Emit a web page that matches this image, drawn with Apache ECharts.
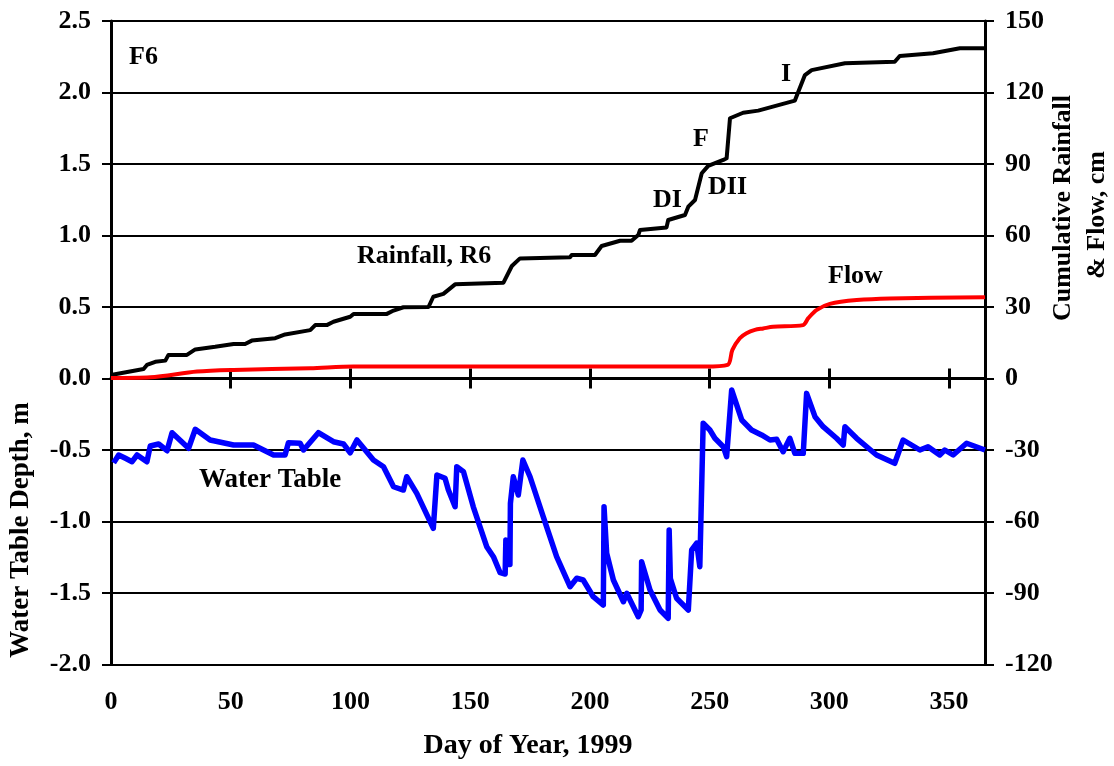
<!DOCTYPE html>
<html><head><meta charset="utf-8">
<script src="https://cdn.jsdelivr.net/npm/echarts@6/dist/echarts.min.js"></script>
<style>html,body{margin:0;padding:0;background:#fff}#c{width:1114px;height:766px}</style>
</head><body><div id="c"></div>
<script>
// Cumulative rainfall (cm, right axis)
const rainDay = [0, 13.6, 15, 18.5, 22.7, 24, 31.7, 35.2, 43.5, 51.2, 56, 58.8, 68.6, 72.7, 83.2, 85.3, 90.1, 92.9, 99.9, 101.3, 115.2, 118, 122.1, 132.6, 134.6, 138.8, 143.7, 163.9, 167.4, 170.8, 191.7, 192.4, 202.1, 204.9, 212.6, 217.4, 220.2, 220.9, 232, 232.7, 239.7, 241.1, 243.9, 246.7, 249.4, 255.7, 257.1, 258.5, 264, 270.3, 285.6, 289.8, 292.6, 306.5, 327.3, 329.4, 343.3, 354.5, 365];
const rainCm = [1.5, 4.0, 5.7, 7.0, 7.5, 9.9, 9.9, 12.2, 13.3, 14.5, 14.5, 15.9, 16.9, 18.5, 20.3, 22.4, 22.4, 23.8, 25.9, 27.1, 27.1, 28.5, 29.9, 30.0, 34.3, 35.5, 39.5, 40.2, 47.2, 50.4, 50.9, 51.8, 51.8, 55.6, 57.8, 57.8, 60.2, 62.3, 63.4, 66.5, 68.6, 72.1, 74.9, 86.1, 89.2, 91.7, 92.4, 109.2, 111.5, 112.4, 116.6, 127.3, 129.4, 132.3, 132.9, 135.3, 136.5, 138.6, 138.6];
// Cumulative flow (cm, right axis)
const flowDay = [0, 16.4, 35.9, 51.2, 83.2, 101.3, 129, 248, 257.5, 259.5, 262.6, 265.4, 268.9, 272.4, 276.5, 289, 291.2, 294.6, 300.2, 311.4, 325.3, 365];
const flowCm = [0.2, 0.5, 2.9, 3.6, 4.3, 5.0, 5.0, 5.0, 5.7, 12.0, 16.9, 19.0, 20.4, 21.0, 21.7, 22.4, 25.3, 28.7, 31.3, 32.9, 33.6, 34.1];
// Water table depth (m, left axis)
const wtDay = [1.1, 3.2, 6, 8.8, 10.9, 15, 16.4, 19.9, 23.4, 25.5, 32.4, 35.2, 41.4, 51.2, 59.5, 67.9, 72.7, 74.1, 79, 80.4, 86.6, 92.9, 97.1, 99.9, 102.7, 109.6, 113.8, 118, 122.1, 123.5, 127.7, 134.6, 136.1, 139.5, 140.9, 143.7, 144.4, 147.2, 151.3, 156.9, 159.7, 162.5, 164.6, 164.9, 165.6, 166.6, 166.8, 168, 170.1, 172, 175, 180.5, 186.1, 191.7, 194.5, 197.2, 201.4, 205.6, 205.9, 207, 209.8, 214, 215.4, 220.2, 221.4, 221.6, 225.1, 229.3, 232.7, 233.1, 233.6, 236.2, 241.1, 242.5, 244.6, 245.9, 247.3, 250.1, 252.2, 255.7, 257.1, 259.2, 263.4, 267.5, 271.7, 275.2, 278, 280.7, 283.5, 285.6, 289.1, 290.5, 294, 297.4, 303, 305.8, 306.5, 311.4, 319.7, 327.3, 330.8, 337.8, 341.2, 346.1, 348.2, 351.7, 357.3, 365];
const wtM = [-0.59, -0.535, -0.558, -0.582, -0.535, -0.582, -0.472, -0.458, -0.505, -0.379, -0.488, -0.355, -0.43, -0.465, -0.465, -0.535, -0.535, -0.449, -0.453, -0.5, -0.379, -0.442, -0.458, -0.519, -0.43, -0.57, -0.617, -0.757, -0.78, -0.687, -0.803, -1.048, -0.675, -0.698, -0.78, -0.897, -0.617, -0.652, -0.897, -1.176, -1.246, -1.358, -1.367, -1.13, -1.30, -1.30, -0.873, -0.687, -0.815, -0.57, -0.687, -0.966, -1.246, -1.456, -1.397, -1.409, -1.526, -1.584, -0.897, -1.222, -1.409, -1.561, -1.502, -1.666, -1.619, -1.281, -1.479, -1.619, -1.677, -1.06, -1.40, -1.537, -1.619, -1.199, -1.152, -1.316, -0.313, -0.36, -0.418, -0.477, -0.547, -0.08, -0.29, -0.36, -0.395, -0.43, -0.425, -0.512, -0.418, -0.523, -0.523, -0.104, -0.267, -0.337, -0.418, -0.465, -0.337, -0.418, -0.535, -0.593, -0.43, -0.5, -0.477, -0.535, -0.5, -0.535, -0.453, -0.5];

const zip = (a, b) => a.map((v, i) => [v, b[i]]);
const FONT = '"Liberation Serif", "Times New Roman", serif';
const FS = 26;
const lbl = {fontFamily: FONT, fontWeight: 'bold', fontSize: FS, color: '#000'};
const txt = (text, x, y, size) => ({
  type: 'text', x: x, y: y, z: 100,
  style: {text: text, x: 0, y: 0, font: 'bold ' + (size || FS) + 'px ' + FONT, fill: '#000', textAlign: 'left', textVerticalAlign: 'middle'}
});
const ctxt = (text, x, y, size, rot) => ({
  type: 'text', x: x, y: y, z: 100, rotation: rot || 0,
  style: {text: text, x: 0, y: 0, font: 'bold ' + size + 'px ' + FONT, fill: '#000', textAlign: 'center', textVerticalAlign: 'middle'}
});

const chart = echarts.init(document.getElementById('c'), null, {renderer: 'canvas'});
chart.setOption({
  animation: false,
  backgroundColor: '#fff',
  grid: {left: 111, right: 129, top: 21, bottom: 101.5, containLabel: false, outerBoundsMode: 'none'},
  xAxis: [
    {type: 'value', min: 0, max: 365, interval: 50, position: 'bottom',
     axisLine: {onZero: true, lineStyle: {color: '#000', width: 3}},
     axisTick: {show: true, length: 10, lineStyle: {color: '#000', width: 3}},
     axisLabel: Object.assign({margin: 25, formatter: v => (v % 50 === 0 ? String(v) : '')}, lbl),
     splitLine: {show: false}},
    {type: 'value', min: 0, max: 365, interval: 50, position: 'top',
     axisLine: {onZero: true, lineStyle: {color: '#000', width: 3}},
     axisTick: {show: true, length: 10, lineStyle: {color: '#000', width: 3}},
     axisLabel: {show: false}, splitLine: {show: false}}
  ],
  yAxis: [
    {type: 'value', min: -2, max: 2.5, interval: 0.5, position: 'left',
     axisLine: {onZero: false, lineStyle: {color: '#000', width: 3}},
     axisTick: {show: true, length: 9, lineStyle: {color: '#000', width: 2}},
     axisLabel: Object.assign({margin: 20, formatter: v => v.toFixed(1)}, lbl),
     splitLine: {show: true, lineStyle: {color: '#000', width: 2}}},
    {type: 'value', min: -120, max: 150, interval: 30, position: 'right',
     axisLine: {onZero: false, lineStyle: {color: '#000', width: 3}},
     axisTick: {show: true, length: 9, lineStyle: {color: '#000', width: 2}},
     axisLabel: Object.assign({margin: 20}, lbl),
     splitLine: {show: false}},
    {type: 'value', min: -120, max: 150, interval: 30, position: 'right',
     axisLine: {show: false, onZero: false},
     axisTick: {show: true, inside: true, length: 10, lineStyle: {color: '#000', width: 2}},
     axisLabel: {show: false}, splitLine: {show: false}}
  ],
  series: [
    {name: 'Rainfall, R6', type: 'line', xAxisIndex: 0, yAxisIndex: 1, data: zip(rainDay, rainCm),
     showSymbol: false, symbol: 'none', lineStyle: {color: '#000', width: 4, join: 'round'}, z: 3},
    {name: 'Flow', type: 'line', xAxisIndex: 0, yAxisIndex: 1, data: zip(flowDay, flowCm),
     showSymbol: false, symbol: 'none', smooth: 0.3, lineStyle: {color: '#ff0000', width: 4, join: 'round'}, z: 4},
    {name: 'Water Table', type: 'line', xAxisIndex: 0, yAxisIndex: 0, data: zip(wtDay, wtM),
     showSymbol: false, symbol: 'none', lineStyle: {color: '#0000ff', width: 5.5, join: 'round'}, z: 5}
  ],
  graphic: [
    txt('F6', 129, 57),
    txt('Rainfall, R6', 357, 256),
    txt('DI', 653, 200),
    txt('DII', 708, 187),
    txt('F', 693, 139),
    txt('I', 781, 74),
    txt('Flow', 828, 276),
    txt('Water Table', 199, 480, 27),
    ctxt('Day of Year, 1999', 528, 746, 28, 0),
    ctxt('Water Table Depth, m', 21, 530, 27, Math.PI / 2),
    ctxt('Cumulative Rainfall', 1063, 208, 26, Math.PI / 2),
    ctxt('& Flow, cm', 1097, 215, 26, Math.PI / 2)
  ]
});
</script>
</body></html>
